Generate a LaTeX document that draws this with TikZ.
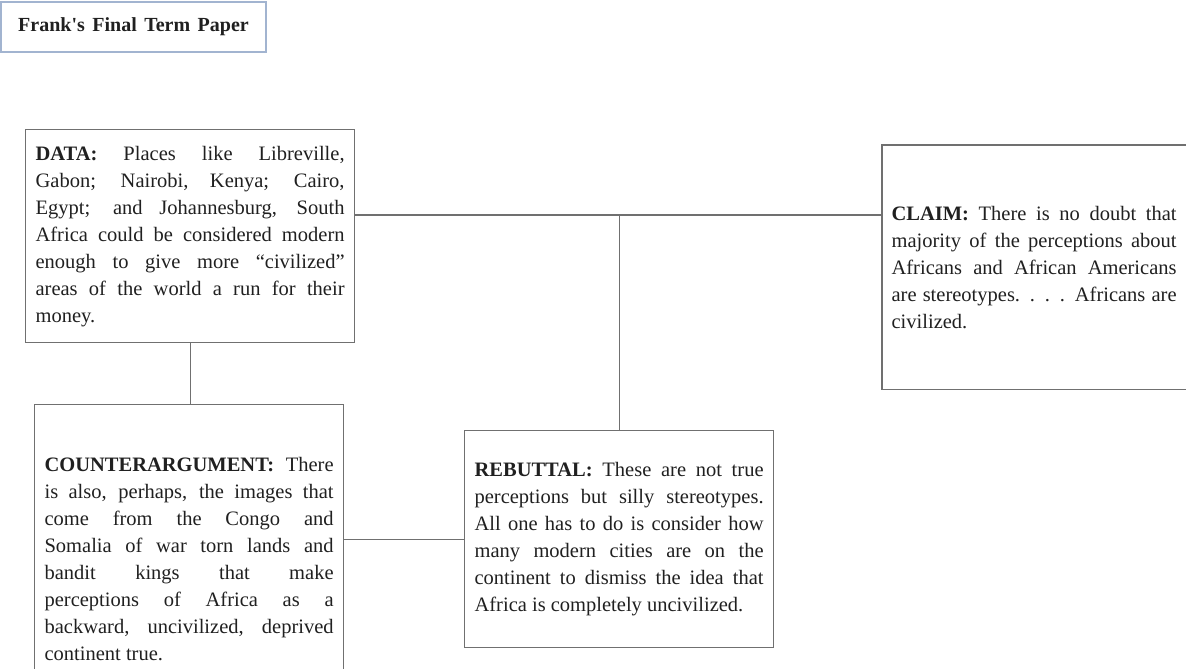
\documentclass[tikz,border=0pt]{standalone}
\usepackage{fontspec}
\setmainfont{Liberation Serif}
\tolerance=10000
\hbadness=10000

\definecolor{rimGray}{RGB}{112,112,112}
\definecolor{titleRim}{RGB}{162,180,208}
\definecolor{inkBlack}{RGB}{32,32,32}

\begin{document}
\begin{tikzpicture}[x=1pt, y=-1pt, line width=1.2pt,
  argbox/.style={draw=rimGray, anchor=north west, align=justify, inner ysep=0pt,
    text=inkBlack, font=\fontsize{20.5}{27}\selectfont},
  link/.style={draw=rimGray, line width=1.1pt}]

  %% ════ 标题框 ════
  \node[draw=titleRim, line width=1.6pt, minimum width=265pt, minimum height=50pt, inner sep=0pt,
    text=inkBlack, font=\bfseries\fontsize{20}{24}\selectfont] (title) at (133.5,27)
    {Frank\textquotesingle s\hspace{7.5pt}Final\hspace{7.5pt}Term\hspace{7.5pt}Paper};

  %% ════ 论证框 ════
  \node[argbox, text width=309pt, inner xsep=10pt, minimum height=213pt] (data) at (25,129)
    {\textbf{DATA:} Places like Libreville,\linebreak
     Gabon; Nairobi, Kenya; Cairo,\linebreak
     Egypt; and Johannesburg, South\linebreak
     Africa could be considered modern\linebreak
     enough to give more “civilized”\linebreak
     areas of the world a run for their\linebreak
     money.};

  \node[argbox, draw=none, text width=285pt, inner xsep=9pt, minimum height=243pt] (claim) at (882,145)
    {\textbf{CLAIM:} There is no doubt that\linebreak
     majority of the perceptions about\linebreak
     Africans and African Americans\linebreak
     are stereotypes. . . . Africans are\linebreak
     civilized.};
  % 右边框落在画布外，只画三条边
  \draw[draw=rimGray] ([xshift=15pt]claim.north east) -- (claim.north west)
    -- (claim.south west) -- ([xshift=15pt]claim.south east);

  \node[argbox, text width=289pt, inner xsep=10pt, minimum height=308pt] (counter) at (34,404)
    {\textbf{COUNTERARGUMENT:} There\linebreak
     is also, perhaps, the images that\linebreak
     come from the Congo and\linebreak
     Somalia of war torn lands and\linebreak
     bandit kings that make\linebreak
     perceptions of Africa as a\linebreak
     backward, uncivilized, deprived\linebreak
     continent true.};

  \node[argbox, text width=289pt, inner xsep=10pt, minimum height=217pt] (rebuttal) at (464,430)
    {\textbf{REBUTTAL:} These are not true\linebreak
     perceptions but silly stereotypes.\linebreak
     All one has to do is consider how\linebreak
     many modern cities are on the\linebreak
     continent to dismiss the idea that\linebreak
     Africa is completely uncivilized.};

  %% ════ 连线 ════
  \coordinate (hub) at (620,215);
  \draw[link] (data.east |- hub) -- (claim.west |- hub);
  \draw[link] (rebuttal.north |- hub) -- (rebuttal.north);
  \draw[link] (data.south) -- (data.south |- counter.north);
  \draw[link] (counter.east |- rebuttal.west) -- (rebuttal.west);

  % 钉死画布
  \pgfresetboundingbox
  \path[use as bounding box] (0,0) rectangle (1186,669);
\end{tikzpicture}
\end{document}
